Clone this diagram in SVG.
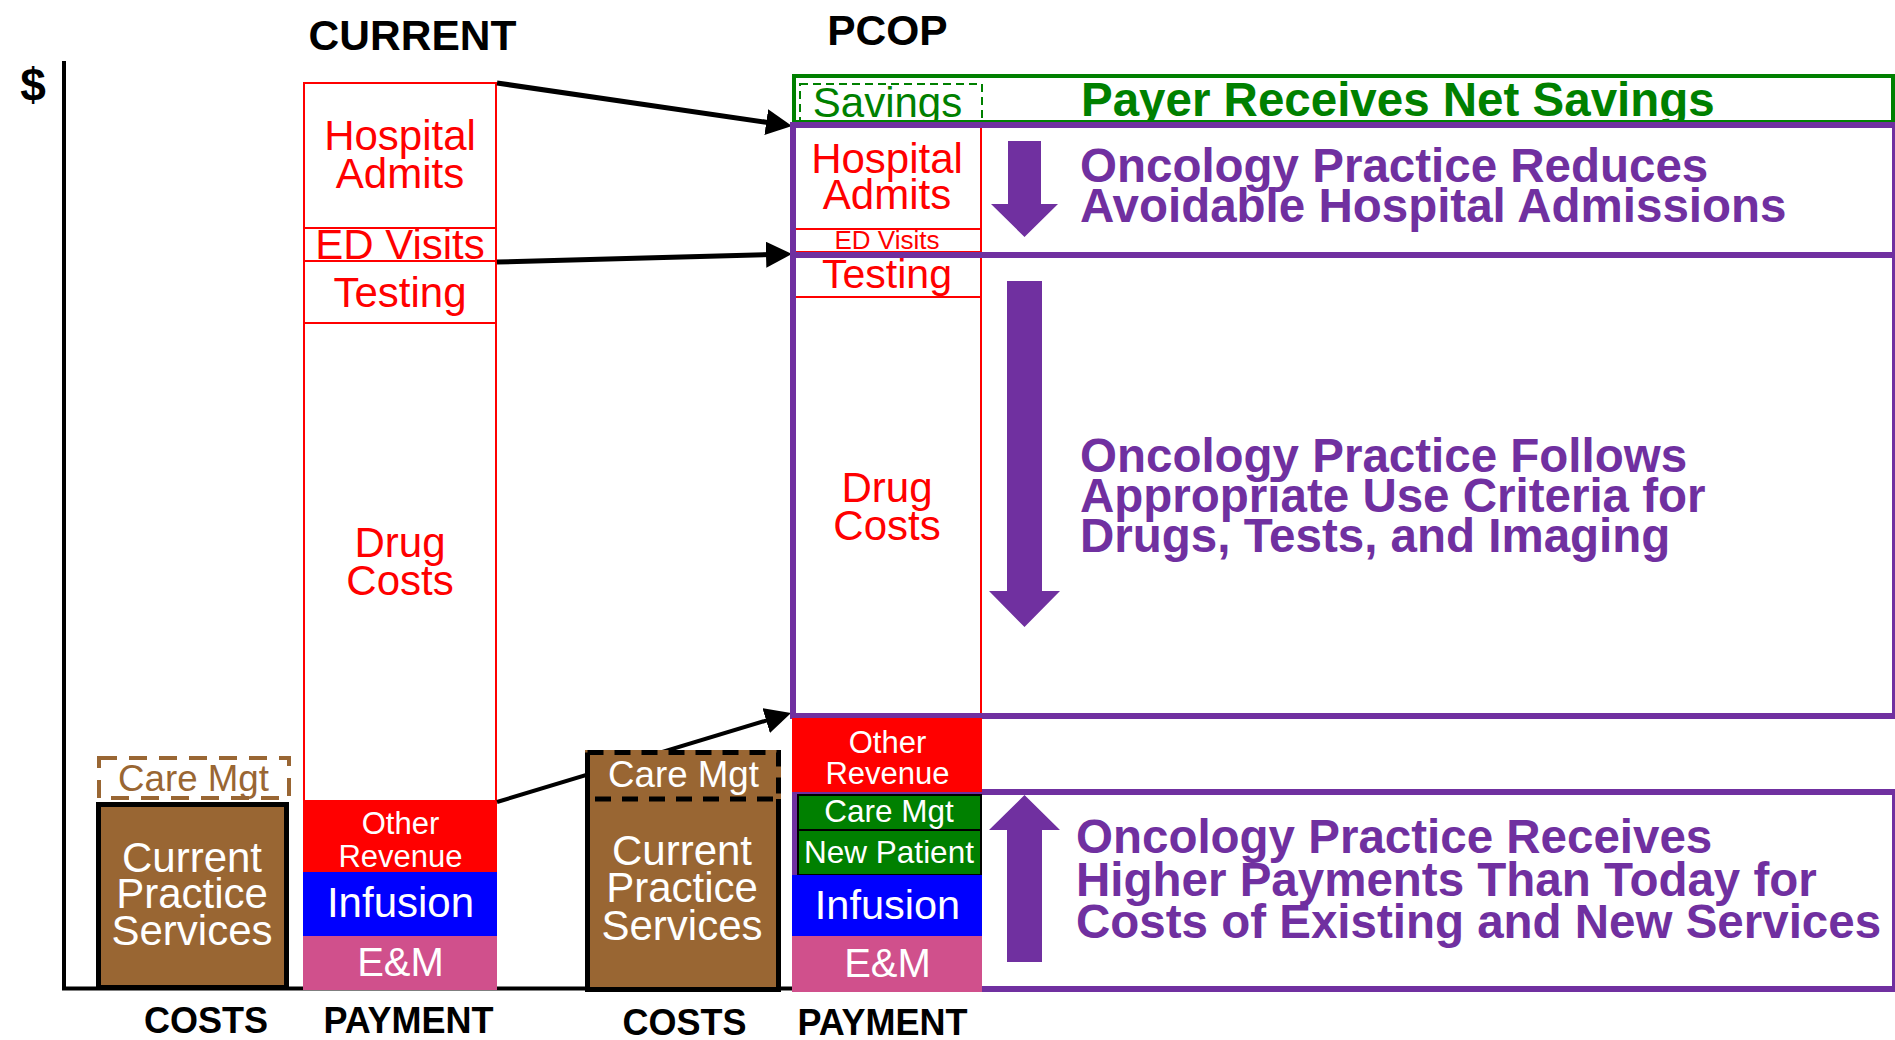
<svg xmlns="http://www.w3.org/2000/svg" width="1895" height="1040" viewBox="0 0 1895 1040">
<style>
text{font-family:"Liberation Sans",Arial,sans-serif;}
.hdr{font-weight:bold;font-size:42.5px;text-anchor:middle;fill:#000;}
.ax{font-weight:bold;font-size:36px;text-anchor:middle;fill:#000;}
.lbl{font-size:42px;text-anchor:middle;}
.sm{font-size:31px;text-anchor:middle;}
.red{fill:#FF0000;}
.wht{fill:#FFFFFF;}
.seg{fill:#FFFFFF;stroke:#FF0000;stroke-width:2;}
.frame{fill:none;stroke:#7030A0;stroke-width:6;}
.ptxt{font-weight:bold;font-size:47.5px;fill:#7030A0;}
.barrow{fill:#7030A0;}
.conn{fill:none;stroke:#000;marker-end:url(#ah);}
.brown{fill:#996633;}
</style>
<defs>
<marker id="ah" markerUnits="userSpaceOnUse" markerWidth="26" markerHeight="26" viewBox="0 0 26 26" refX="6" refY="13" orient="auto">
<path d="M0,0 L26,13 L0,26 z" fill="#000"/>
</marker>
</defs>
<rect width="1895" height="1040" fill="#FFFFFF"/>

<g id="axes">
<line x1="64" y1="61" x2="64" y2="990" stroke="#000" stroke-width="4"/>
<line x1="62" y1="988.5" x2="792" y2="988.5" stroke="#000" stroke-width="4"/>
<text x="33" y="101" style="font-weight:bold;font-size:46px;text-anchor:middle;">$</text>
</g>

<g id="headers">
<text class="hdr" x="412.5" y="50">CURRENT</text>
<text class="hdr" x="887.5" y="45">PCOP</text>
<text class="ax" x="206" y="1033">COSTS</text>
<text class="ax" x="408.5" y="1033">PAYMENT</text>
<text class="ax" x="684.5" y="1035">COSTS</text>
<text class="ax" x="882.5" y="1035">PAYMENT</text>
</g>

<g id="current-costs">
<rect x="98.5" y="804.5" width="188" height="183" fill="#996633" stroke="#000" stroke-width="5"/>
<text class="lbl wht" x="192" y="872">Current</text>
<text class="lbl wht" x="192" y="908">Practice</text>
<text class="lbl wht" x="192" y="945">Services</text>
<rect x="99" y="758" width="190" height="40" fill="#FFFFFF" stroke="#996633" stroke-width="4" stroke-dasharray="18,12"/>
<text x="193.5" y="791" style="font-size:36.7px;text-anchor:middle;fill:#996633;">Care Mgt</text>
</g>

<g id="current-payment">
<rect class="seg" x="304" y="83" width="192" height="145"/>
<rect class="seg" x="304" y="228" width="192" height="33"/>
<rect class="seg" x="304" y="261" width="192" height="62"/>
<rect class="seg" x="304" y="323" width="192" height="478"/>
<text class="lbl red" x="400" y="150">Hospital</text>
<text class="lbl red" x="400" y="188">Admits</text>
<text class="lbl red" x="400" y="259">ED Visits</text>
<text class="lbl red" x="400" y="307">Testing</text>
<text class="lbl red" x="400" y="557">Drug</text>
<text class="lbl red" x="400" y="595">Costs</text>
<rect x="303" y="801" width="194" height="71" fill="#FF0000"/>
<rect x="303" y="872" width="194" height="64" fill="#0000FF"/>
<rect x="303" y="936" width="194" height="54" fill="#D0508C"/>
<text class="sm wht" x="400.5" y="834">Other</text>
<text class="sm wht" x="400.5" y="867">Revenue</text>
<text class="lbl wht" x="400.5" y="917">Infusion</text>
<text class="wht" x="400.5" y="976" style="font-size:40px;text-anchor:middle;">E&amp;M</text>
</g>

<g id="connectors">
<path class="conn" d="M497,83 L772.2,123.1" stroke-width="5"/>
<path class="conn" d="M497,262 L772,254.5" stroke-width="5"/>
<path class="conn" d="M497,802 L771.9,718.8" stroke-width="4"/>
</g>

<g id="pcop-costs">
<rect x="585" y="750" width="196" height="242" fill="#996633"/>
<path d="M587.5,752.5 V989.5 H778.5 V799" fill="none" stroke="#000" stroke-width="5"/>
<path d="M587.5,752.5 H778.5 V799 H587.5" fill="none" stroke="#000" stroke-width="5" stroke-dasharray="16,11"/>
<text x="683.5" y="787" style="font-size:36.7px;text-anchor:middle;fill:#FFFFFF;">Care Mgt</text>
<text class="lbl wht" x="682" y="865">Current</text>
<text class="lbl wht" x="682" y="902">Practice</text>
<text class="lbl wht" x="682" y="940">Services</text>
</g>

<g id="pcop-payment-reduced">
<rect class="seg" x="794" y="125" width="187" height="104"/>
<rect class="seg" x="794" y="229" width="187" height="23"/>
<rect class="seg" x="794" y="255" width="187" height="42"/>
<rect class="seg" x="794" y="297" width="187" height="419"/>
<text class="lbl red" x="887" y="173">Hospital</text>
<text class="lbl red" x="887" y="209">Admits</text>
<text class="red" x="887" y="249" style="font-size:26px;text-anchor:middle;">ED Visits</text>
<text class="red" x="887" y="288" style="font-size:41px;text-anchor:middle;">Testing</text>
<text class="lbl red" x="887" y="502">Drug</text>
<text class="lbl red" x="887" y="540">Costs</text>
</g>

<g id="savings">
<rect x="800" y="84" width="182" height="40" fill="none" stroke="#008000" stroke-width="2" stroke-dasharray="8,5"/>
<text x="887.5" y="117" style="font-size:42px;text-anchor:middle;fill:#008000;">Savings</text>
<rect x="794" y="76" width="1099" height="46" fill="none" stroke="#008000" stroke-width="4"/>
<text x="1081" y="116" style="font-weight:bold;font-size:47.5px;fill:#008000;">Payer Receives Net Savings</text>
</g>

<g id="frames">
<rect class="frame" x="793" y="125" width="1102" height="130"/>
<rect class="frame" x="793" y="255" width="1102" height="461"/>
<rect class="frame" x="795" y="792" width="1100" height="197"/>
</g>

<g id="pcop-payment-paid">
<rect x="792" y="718" width="190" height="74" fill="#FF0000"/>
<text class="sm wht" x="887.5" y="753">Other</text>
<text class="sm wht" x="887.5" y="784">Revenue</text>
<rect x="798" y="795" width="183" height="35" fill="#008000" stroke="#000" stroke-width="2"/>
<text class="wht" x="889" y="822" style="font-size:31.5px;text-anchor:middle;">Care Mgt</text>
<rect x="798" y="830" width="183" height="45" fill="#008000" stroke="#000" stroke-width="2"/>
<text class="wht" x="889" y="863" style="font-size:31.5px;text-anchor:middle;">New Patient</text>
<rect x="792" y="875" width="190" height="61" fill="#0000FF"/>
<text class="wht" x="887.5" y="919" style="font-size:41.5px;text-anchor:middle;">Infusion</text>
<rect x="792" y="936" width="190" height="56" fill="#D0508C"/>
<text class="wht" x="887.5" y="977" style="font-size:40px;text-anchor:middle;">E&amp;M</text>
</g>

<g id="reduces">
<polygon class="barrow" points="1008,141 1041,141 1041,204 1058,204 1024.5,237 991,204 1008,204"/>
<text class="ptxt" x="1080" y="181.5">Oncology Practice Reduces</text>
<text class="ptxt" x="1080" y="222">Avoidable Hospital Admissions</text>
</g>

<g id="follows">
<polygon class="barrow" points="1007,281 1042,281 1042,591 1060,591 1024.5,627 989,591 1007,591"/>
<text class="ptxt" x="1080" y="472">Oncology Practice Follows</text>
<text class="ptxt" x="1080" y="511.5">Appropriate Use Criteria for</text>
<text class="ptxt" x="1080" y="552">Drugs, Tests, and Imaging</text>
</g>

<g id="receives">
<polygon class="barrow" points="1024.5,795 1060,830 1042,830 1042,962 1007,962 1007,830 989,830"/>
<text class="ptxt" x="1076" y="853">Oncology Practice Receives</text>
<text class="ptxt" x="1076" y="895.5">Higher Payments Than Today for</text>
<text class="ptxt" x="1076" y="938">Costs of Existing and New Services</text>
</g>
</svg>
